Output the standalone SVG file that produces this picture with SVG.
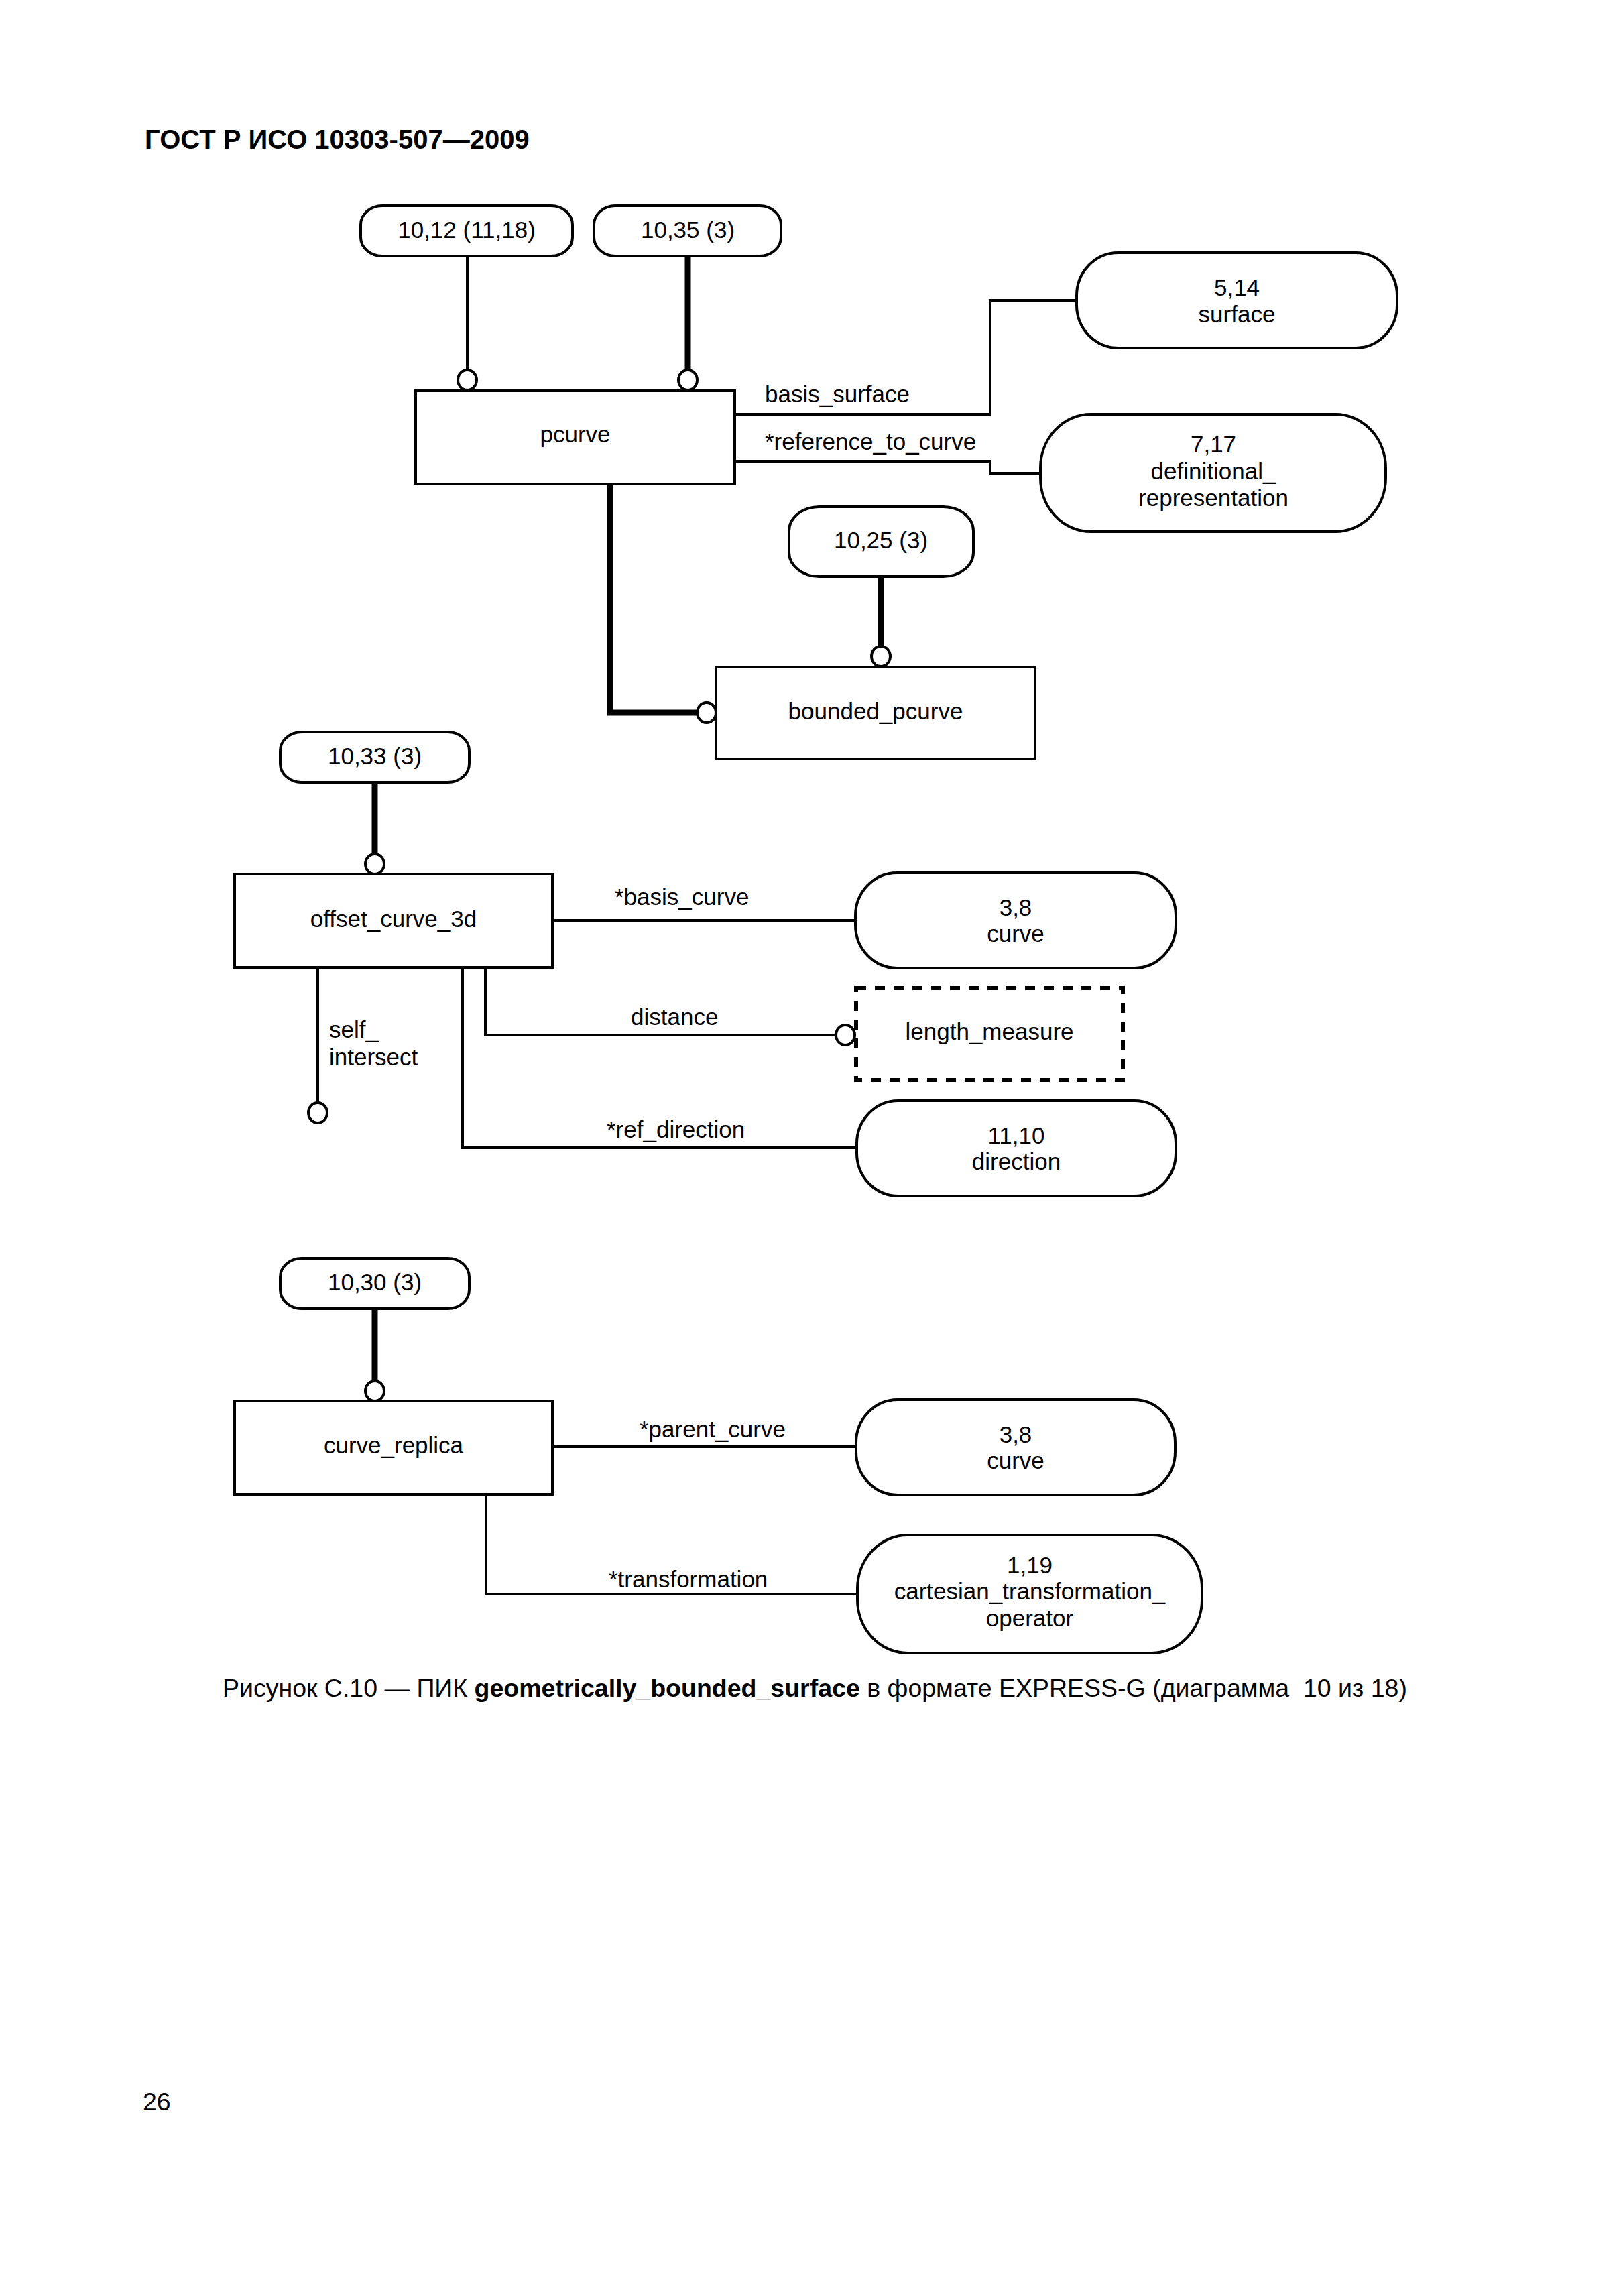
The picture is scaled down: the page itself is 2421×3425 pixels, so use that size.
<svg xmlns="http://www.w3.org/2000/svg" width="2421" height="3425" viewBox="0 0 2421 3425">
<style>
text{font-family:"Liberation Sans",Arial,sans-serif;font-size:35px;fill:#000}
.c{text-anchor:middle}
.box{fill:#fff;stroke:#000;stroke-width:4}
.typ{fill:#fff;stroke:#000;stroke-width:6;stroke-dasharray:15 13}
.ln{fill:none;stroke:#000;stroke-width:4}
.thk{fill:none;stroke:#000;stroke-width:9}
.circ{fill:#fff;stroke:#000;stroke-width:4}
.title{font-weight:bold;font-size:40px}
.big{font-size:37.5px}
</style>
<rect width="2421" height="3425" fill="#fff"/>
<text class="title" x="216" y="222">ГОСТ Р ИСО 10303-507—2009</text>

<g id="connectors">
<path class="ln" d="M697 382 V552"/>
<path class="thk" d="M1026 382 V552"/>
<path class="thk" d="M910 722 V1063 H1040"/>
<path class="thk" d="M1314 860 V964"/>
<path class="ln" d="M1096 618 H1477 V448 H1606"/>
<path class="ln" d="M1096 688 H1477 V706 H1552"/>
<path class="thk" d="M559 1167 V1274"/>
<path class="ln" d="M824 1373 H1276"/>
<path class="ln" d="M724 1443 V1544 H1247"/>
<path class="ln" d="M474 1443 V1645"/>
<path class="ln" d="M690 1443 V1712 H1278"/>
<path class="thk" d="M559 1952 V2060"/>
<path class="ln" d="M824 2158 H1277"/>
<path class="ln" d="M725 2229 V2378 H1279"/>
<ellipse class="circ" cx="697" cy="567" rx="14" ry="15"/>
<ellipse class="circ" cx="1026" cy="567" rx="14" ry="15"/>
<ellipse class="circ" cx="1054" cy="1063" rx="14" ry="15"/>
<ellipse class="circ" cx="1314" cy="979" rx="14" ry="15"/>
<ellipse class="circ" cx="559" cy="1289" rx="14" ry="15"/>
<ellipse class="circ" cx="1261" cy="1544" rx="14" ry="15"/>
<ellipse class="circ" cx="474" cy="1660" rx="14" ry="15"/>
<ellipse class="circ" cx="559" cy="2075" rx="14" ry="15"/>
<text x="1141" y="600">basis_surface</text>
<text x="1141" y="671">*reference_to_curve</text>
<text x="917" y="1350">*basis_curve</text>
<text x="941" y="1529">distance</text>
<text x="491" y="1548">self_</text>
<text x="491" y="1589">intersect</text>
<text x="905" y="1697">*ref_direction</text>
<text x="954" y="2144">*parent_curve</text>
<text x="908" y="2368">*transformation</text>
</g>

<g id="n_10_12"><rect class="box" x="538" y="307" width="316" height="75" rx="32" ry="28"/><text class="c" x="696" y="355">10,12 (11,18)</text></g>
<g id="n_10_35"><rect class="box" x="886" y="307" width="279" height="75" rx="32" ry="28"/><text class="c" x="1026" y="355">10,35 (3)</text></g>
<g id="pcurve"><rect class="box" x="620" y="583" width="476" height="139"/><text class="c" x="858" y="660">pcurve</text></g>
<g id="surface"><rect class="box" x="1606" y="377" width="478" height="142" rx="62" ry="64"/><text class="c" x="1845" y="441">5,14</text><text class="c" x="1845" y="481">surface</text></g>
<g id="definitional_representation"><rect class="box" x="1552" y="618" width="515" height="175" rx="75" ry="80"/><text class="c" x="1810" y="675">7,17</text><text class="c" x="1810" y="715">definitional_</text><text class="c" x="1810" y="755">representation</text></g>
<g id="n_10_25"><rect class="box" x="1177" y="756" width="275" height="104" rx="45" ry="36"/><text class="c" x="1314" y="818">10,25 (3)</text></g>
<g id="bounded_pcurve"><rect class="box" x="1068" y="995" width="476" height="137"/><text class="c" x="1306" y="1073">bounded_pcurve</text></g>
<g id="n_10_33"><rect class="box" x="418" y="1092" width="282" height="75" rx="32" ry="28"/><text class="c" x="559" y="1140">10,33 (3)</text></g>
<g id="offset_curve_3d"><rect class="box" x="350" y="1304" width="474" height="139"/><text class="c" x="587" y="1383">offset_curve_3d</text></g>
<g id="curve_1"><rect class="box" x="1276" y="1302" width="478" height="142" rx="62" ry="64"/><text class="c" x="1515" y="1366">3,8</text><text class="c" x="1515" y="1405">curve</text></g>
<g id="length_measure"><rect class="typ" x="1277" y="1474" width="398" height="137"/><text class="c" x="1476" y="1551">length_measure</text></g>
<g id="direction"><rect class="box" x="1278" y="1642" width="476" height="142" rx="62" ry="64"/><text class="c" x="1516" y="1706">11,10</text><text class="c" x="1516" y="1745">direction</text></g>
<g id="n_10_30"><rect class="box" x="418" y="1877" width="282" height="75" rx="32" ry="28"/><text class="c" x="559" y="1925">10,30 (3)</text></g>
<g id="curve_replica"><rect class="box" x="350" y="2090" width="474" height="139"/><text class="c" x="587" y="2168">curve_replica</text></g>
<g id="curve_2"><rect class="box" x="1277" y="2088" width="476" height="142" rx="62" ry="64"/><text class="c" x="1515" y="2152">3,8</text><text class="c" x="1515" y="2191">curve</text></g>
<g id="cartesian_transformation_operator"><rect class="box" x="1279" y="2290" width="514" height="176" rx="75" ry="80"/><text class="c" x="1536" y="2347">1,19</text><text class="c" x="1536" y="2386">cartesian_transformation_</text><text class="c" x="1536" y="2426">operator</text></g>

<text class="big" x="332" y="2531" xml:space="preserve">Рисунок С.10 — ПИК <tspan font-weight="bold">geometrically_bounded_surface</tspan> в формате EXPRESS-G (диаграмма  10 из 18)</text>
<text class="big" x="213" y="3148">26</text>
</svg>
